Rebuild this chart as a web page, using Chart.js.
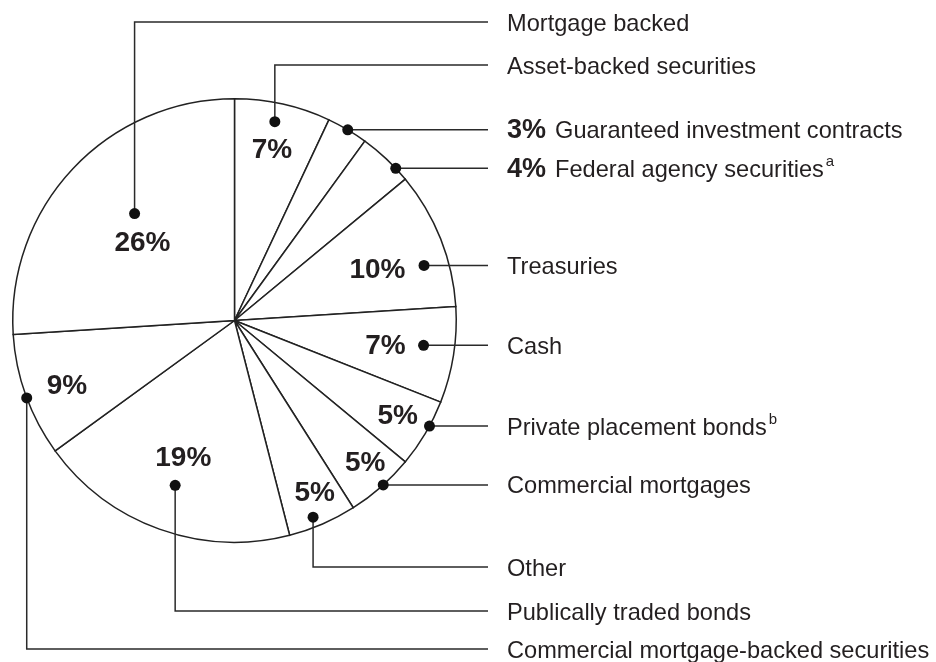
<!DOCTYPE html>
<html>
<head>
<meta charset="utf-8">
<script src="https://cdn.jsdelivr.net/npm/chart.js@4.4.1/dist/chart.umd.min.js"></script>
<style>
  html, body { margin: 0; padding: 0; background: #ffffff; }
  #wrap { width: 936px; height: 662px; }
</style>
</head>
<body>
<div id="wrap"><canvas id="c" width="936" height="662"></canvas></div>
<script>
// ---- Data (clockwise from 12 o'clock) ----
const categories = [
  'Asset-backed securities',
  'Guaranteed investment contracts',
  'Federal agency securities',
  'Treasuries',
  'Cash',
  'Private placement bonds',
  'Commercial mortgages',
  'Other',
  'Publically traded bonds',
  'Commercial mortgage-backed securities',
  'Mortgage backed'
];
const shares = [7, 3, 4, 10, 7, 5, 5, 5, 19, 9, 26];
const footnotes = ['', '', 'a', '', '', 'b', '', '', '', '', ''];

// ---- Layout (annotation placement, polar within each slice) ----
// pct: where the percentage goes ('in' = inside slice, 'legend' = before label text)
// lr/lt: label radius fraction / angle fraction in slice; dr/dt: dot radius / angle fraction
// leader: 'up' | 'down' | 'side'; row: label row y (for up/down)
const layout = [
  { pct: 'in',     lr: 0.79,  lt: 0.49, dr: 0.915, dt: 0.455, leader: 'up',   row: 65 },
  { pct: 'legend', lr: 0,     lt: 0,    dr: 1.0,   dt: 0.51,  leader: 'side' },
  { pct: 'legend', lr: 0,     lt: 0,    dr: 1.0,   dt: 0.74,  leader: 'side' },
  { pct: 'in',     lr: 0.685, lt: 0.55, dr: 0.89,  dt: 0.65,  leader: 'side' },
  { pct: 'in',     lr: 0.69,  lt: 0.52, dr: 0.86,  dt: 0.44,  leader: 'side' },
  { pct: 'in',     lr: 0.85,  lt: 0.47, dr: 1.0,   dt: 0.38,  leader: 'side' },
  { pct: 'in',     lr: 0.87,  lt: 0.43, dr: 1.0,   dt: 0.46,  leader: 'side' },
  { pct: 'in',     lr: 0.855, lt: 0.41, dr: 0.955, dt: 0.59,  leader: 'down', row: 567 },
  { pct: 'in',     lr: 0.66,  lt: 0.51, dr: 0.79,  dt: 0.50,  leader: 'down', row: 611 },
  { pct: 'in',     lr: 0.81,  lt: 0.46, dr: 1.0,   dt: 0.48,  leader: 'down', row: 649 },
  { pct: 'in',     lr: 0.545, lt: 0.47, dr: 0.66,  dt: 0.54,  leader: 'up',   row: 22 }
];

const INK = '#231f20';
const LINE_END_X = 488;
const TEXT_X = 507;
const FONT = '"Liberation Sans", Arial, Helvetica, sans-serif';

function polar(arc, rf, tf) {
  const a = arc.startAngle + (arc.endAngle - arc.startAngle) * tf;
  const r = arc.outerRadius * rf;
  return { x: arc.x + Math.cos(a) * r, y: arc.y + Math.sin(a) * r };
}

const annotate = {
  id: 'annotate',
  afterDatasetsDraw(chart) {
    const ctx = chart.ctx;
    const meta = chart.getDatasetMeta(0);
    ctx.save();
    meta.data.forEach((arc, i) => {
      const L = layout[i];
      const dot = polar(arc, L.dr, L.dt);
      const rowY = L.leader === 'side' ? dot.y : L.row;

      // leader line
      ctx.strokeStyle = '#2a2a2a';
      ctx.lineWidth = 1.5;
      ctx.beginPath();
      ctx.moveTo(dot.x, dot.y);
      if (L.leader !== 'side') ctx.lineTo(dot.x, rowY);
      ctx.lineTo(LINE_END_X, rowY);
      ctx.stroke();

      // dot
      ctx.fillStyle = '#111';
      ctx.beginPath();
      ctx.arc(dot.x, dot.y, 5.5, 0, Math.PI * 2);
      ctx.fill();

      // inside percentage
      if (L.pct === 'in') {
        const p = polar(arc, L.lr, L.lt);
        ctx.fillStyle = INK;
        ctx.font = 'bold 28px ' + FONT;
        ctx.textAlign = 'center';
        ctx.textBaseline = 'middle';
        ctx.fillText(shares[i] + '%', p.x, p.y + 1);
      }

      // row label
      let x = TEXT_X;
      const ty = rowY + 2;
      ctx.textAlign = 'left';
      ctx.textBaseline = 'middle';
      ctx.fillStyle = INK;
      if (L.pct === 'legend') {
        ctx.font = 'bold 27px ' + FONT;
        const s = shares[i] + '%';
        ctx.fillText(s, x, ty - 1);
        x += ctx.measureText(s).width + 9;
      }
      ctx.font = '23.6px ' + FONT;
      ctx.fillText(categories[i], x, ty);
      if (footnotes[i]) {
        const w = ctx.measureText(categories[i]).width;
        ctx.font = '15px ' + FONT;
        ctx.fillText(footnotes[i], x + w + 2, ty - 8);
      }
    });
    ctx.restore();
  }
};

new Chart(document.getElementById('c'), {
  type: 'pie',
  data: {
    labels: categories,
    datasets: [{
      data: shares,
      backgroundColor: '#ffffff',
      borderColor: '#222222',
      borderWidth: 1.5,
      borderJoinStyle: 'miter'
    }]
  },
  options: {
    responsive: false,
    animation: false,
    events: [],
    layout: { padding: { left: 12, top: 98, right: 479, bottom: 119 } },
    plugins: {
      legend: { display: false },
      tooltip: { enabled: false }
    }
  },
  plugins: [annotate]
});
</script>
</body>
</html>
